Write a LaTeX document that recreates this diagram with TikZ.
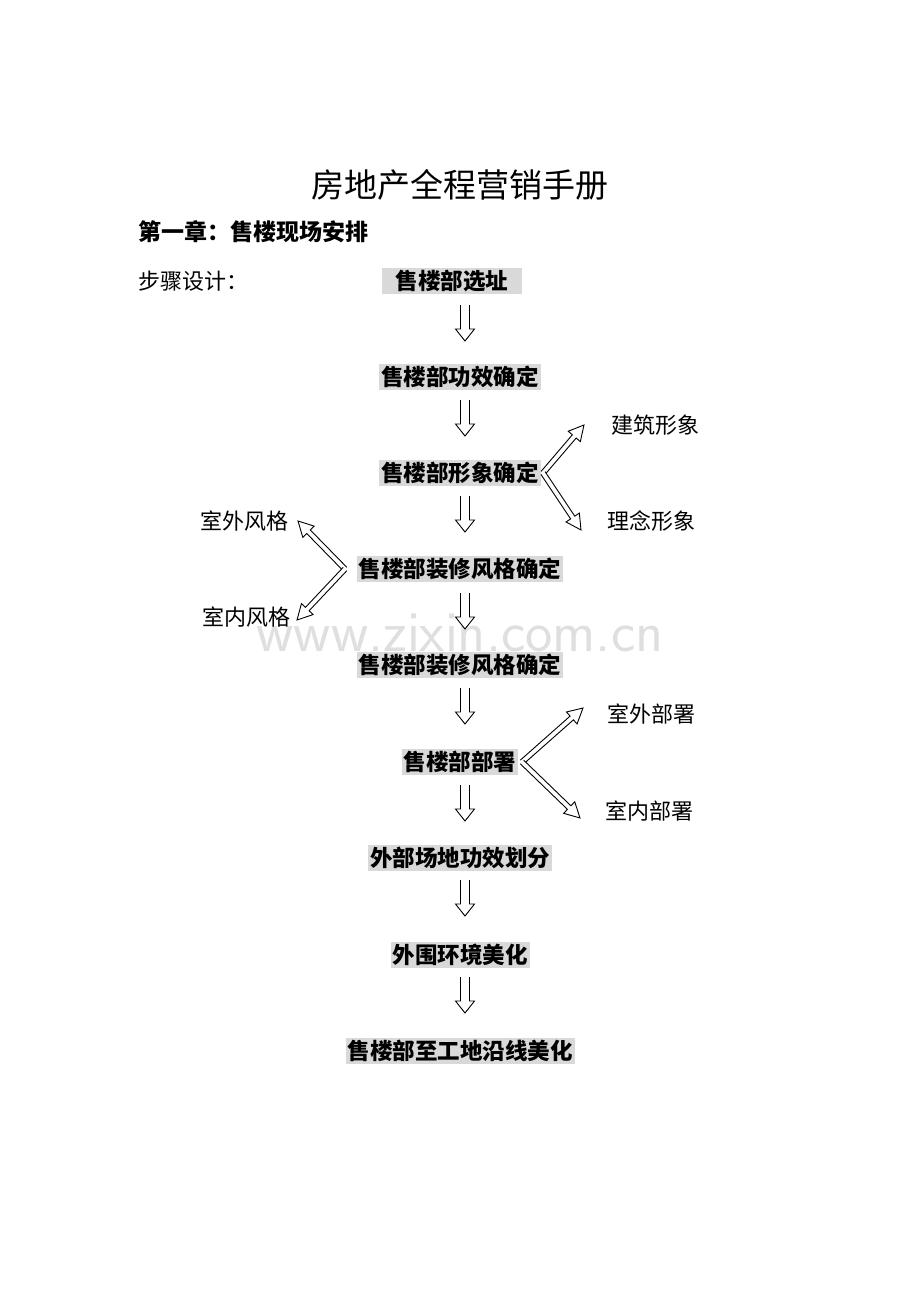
\documentclass[tikz,border=0pt]{standalone}
\usepackage{fontspec}
\setmainfont{Noto Sans CJK SC}
\usetikzlibrary{calc}
\tikzset{
 box/.style={fill=gray!30,inner xsep=2pt,inner ysep=2pt,font=\fontsize{22.5}{24}\selectfont\bfseries},
 lab/.style={font=\fontsize{22}{24}\selectfont,inner sep=0pt},
 harr/.style={draw=black,line width=0.9pt,fill=white,line join=miter}
}
\newcommand\harrow[5]{% start, end, half shaft, half head, head length
\draw[harr] let \p1=(#1), \p2=(#2), \n1={atan2(\y2-\y1,\x2-\x1)}, \n2={veclen(\x2-\x1,\y2-\y1)} in
 [shift={(\p1)}, rotate=\n1] (0,-#3) -- (\n2-#5,-#3) -- (\n2-#5,-#4) -- (\n2,0) -- (\n2-#5,#4) -- (\n2-#5,#3) -- (0,#3);}
\begin{document}
\begin{tikzpicture}[x=1pt,y=-1pt]
\useasboundingbox (0,0) rectangle (920,1302);
\node[text=gray!25,font=\fontsize{58}{60}\selectfont\sffamily] (wm) at (460,633) {www.zixin.com.cn};
\node[font=\fontsize{33}{36}\selectfont] (title) at (460,185) {房地产全程营销手册};
\node[anchor=west,font=\fontsize{23}{25}\selectfont\bfseries,inner sep=0pt] (ch) at (138,232) {第一章：售楼现场安排};
\node[anchor=west,lab] (step) at (138,281) {步骤设计：};
\node[box,minimum width=140pt] (b1) at (452,281) {售楼部选址};
\node[box] (b2) at (460,377) {售楼部功效确定};
\node[box] (b3) at (460,473) {售楼部形象确定};
\node[box] (b4) at (460,569) {售楼部装修风格确定};
\node[box] (b5) at (460,665) {售楼部装修风格确定};
\node[box] (b6) at (460,762) {售楼部部署};
\node[box] (b7) at (460,858) {外部场地功效划分};
\node[box] (b8) at (460,955) {外围环境美化};
\node[box] (b9) at (460,1051) {售楼部至工地沿线美化};
\foreach \a/\b/\y in {b1/b2/305,b2/b3/400,b3/b4/496,b4/b5/593,b5/b6/688,b6/b7/785,b7/b8/880,b8/b9/977}{
 \coordinate (s\a) at (465,\y); \coordinate (e\a) at (465,\y+36);
 \harrow{s\a}{e\a}{4.5}{9.5}{12}
}
\node[anchor=west,lab] (l1) at (611,425) {建筑形象};
\node[anchor=west,lab] (l2) at (607,521) {理念形象};
\node[anchor=east,lab] (l3) at (289,521) {室外风格};
\node[anchor=east,lab] (l4) at (291,617) {室内风格};
\node[anchor=west,lab] (l5) at (607,714) {室外部署};
\node[anchor=west,lab] (l6) at (605,811) {室内部署};
\coordinate (v3) at (543,473);
\coordinate (t1) at (584,425); \coordinate (t2) at (581,530);
\harrow{v3}{t1}{2.5}{8}{15}
\harrow{v3}{t2}{2.5}{8}{15}
\coordinate (v4) at (345,569);
\coordinate (t3) at (298,521); \coordinate (t4) at (297,620);
\harrow{v4}{t3}{2.5}{8}{15}
\harrow{v4}{t4}{2.5}{8}{15}
\coordinate (v6) at (522,762);
\coordinate (t5) at (583,708); \coordinate (t6) at (580,818);
\harrow{v6}{t5}{2.5}{8}{15}
\harrow{v6}{t6}{2.5}{8}{15}
\end{tikzpicture}
\end{document}
